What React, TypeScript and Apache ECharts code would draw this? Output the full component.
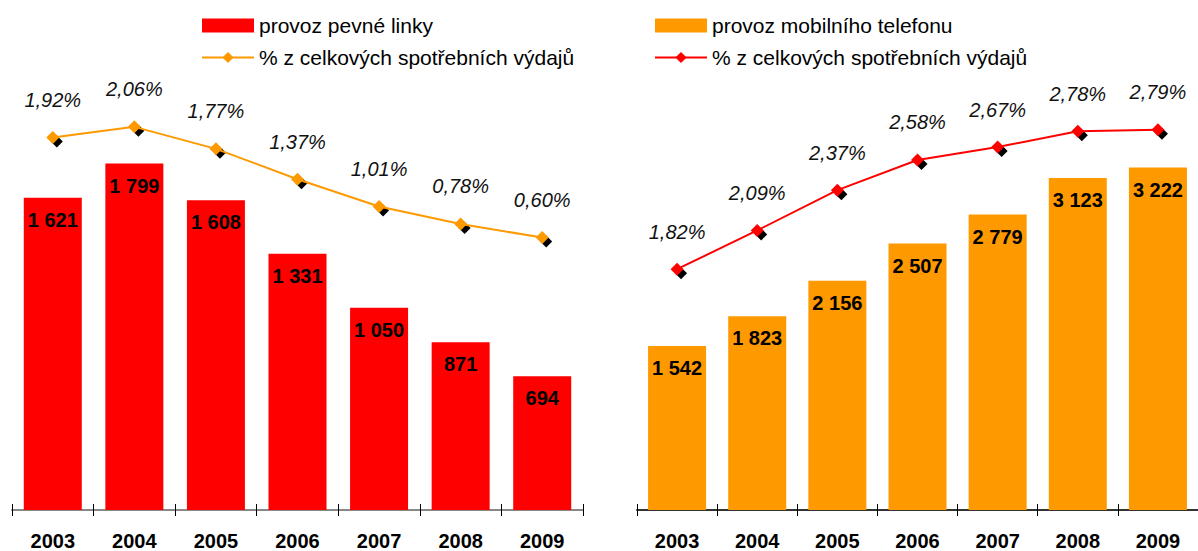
import React, { useEffect, useRef } from "react";
import * as echarts from "echarts";

const years = ["2003", "2004", "2005", "2006", "2007", "2008", "2009"];
const fixedValues = [1621, 1799, 1608, 1331, 1050, 871, 694];
const fixedPct = [1.92, 2.06, 1.77, 1.37, 1.01, 0.78, 0.6];
const mobileValues = [1542, 1823, 2156, 2507, 2779, 3123, 3222];
const mobilePct = [1.82, 2.09, 2.37, 2.58, 2.67, 2.78, 2.79];

const fixedName = "provoz pevné linky";
const mobileName = "provoz mobilního telefonu";
const pctLabel = "% z celkových spotřebních výdajů";

const FONT = "'Liberation Sans', Arial, sans-serif";
const RED = "#FF0000";
const ORANGE = "#FF9900";

const fmtThousands = (v: number) =>
  String(v).replace(/\B(?=(\d{3})+(?!\d))/g, " ");
const fmtPct = (v: number) => v.toFixed(2).replace(".", ",") + "%";

const legendNames: Record<string, string> = {
  [fixedName]: fixedName,
  pctFixed: pctLabel,
  [mobileName]: mobileName,
  pctMobile: pctLabel,
};

export default function App() {
  const ref = useRef<HTMLDivElement>(null);
  useEffect(() => {
    if (!ref.current) return;
    const chart = echarts.init(ref.current, undefined, { renderer: "svg" });

    const xAxisPair = (gridIndex: number, lineColor: string) => [
      {
        type: "category",
        gridIndex,
        data: years,
        boundaryGap: true,
        axisLine: { show: true, onZero: false, lineStyle: { color: lineColor, width: 2 } },
        axisTick: { show: true, inside: false, length: 6, lineStyle: { color: "#000", width: 1 } },
        axisLabel: {
          show: true,
          margin: 21,
          fontSize: 20,
          fontWeight: "bold",
          color: "#000",
          fontFamily: FONT,
        },
      },
      {
        type: "category",
        gridIndex,
        data: years,
        boundaryGap: true,
        position: "bottom",
        axisLine: { show: false, onZero: false },
        axisTick: { show: true, inside: true, length: 6, lineStyle: { color: "#000", width: 1 } },
        axisLabel: { show: false },
      },
    ];

    const hiddenY = (gridIndex: number, min: number, max: number) => ({
      type: "value",
      gridIndex,
      min,
      max,
      show: false,
      splitLine: { show: false },
    });

    const legendBase = {
      orient: "vertical",
      top: 15,
      padding: 0,
      itemWidth: 52,
      itemHeight: 14,
      itemGap: 11,
      selectedMode: false,
      textStyle: { fontSize: 21, lineHeight: 21, color: "#000", fontFamily: FONT },
      formatter: (name: string) => legendNames[name] ?? name,
    };

    const barLabel = {
      show: true,
      position: "insideTop",
      distance: 12,
      fontSize: 20,
      fontWeight: "bold",
      color: "#000",
      fontFamily: FONT,
      formatter: (p: any) => fmtThousands(p.value),
    };

    const pctLabelStyle = {
      show: true,
      position: "top",
      distance: 21,
      fontSize: 20,
      fontStyle: "italic",
      color: "#111",
      fontFamily: FONT,
      formatter: (p: any) => fmtPct(p.value),
    };

    const shadowStyle = { color: "#000", opacity: 1 };

    chart.setOption({
      animation: false,
      textStyle: { fontFamily: FONT },
      legend: [
        {
          ...legendBase,
          left: 201,
          data: [{ name: fixedName, icon: "rect" }, { name: "pctFixed" }],
        },
        {
          ...legendBase,
          left: 654,
          data: [{ name: mobileName, icon: "rect" }, { name: "pctMobile" }],
        },
      ],
      grid: [
        { left: 12, right: 615, top: 28.5, bottom: 40 },
        { left: 637, right: -9.5, top: 28.5, bottom: 40 },
      ],
      xAxis: [...xAxisPair(0, "#888"), ...xAxisPair(1, "#333")],
      yAxis: [
        hiddenY(0, 0, 2500),
        hiddenY(0, -2.992, 3.357),
        hiddenY(1, 0, 4530),
        hiddenY(1, 0.1444, 3.495),
      ],
      series: [
        {
          name: fixedName,
          type: "bar",
          xAxisIndex: 0,
          yAxisIndex: 0,
          data: fixedValues,
          barWidth: 58,
          itemStyle: { color: RED },
          label: barLabel,
        },
        {
          name: "pctFixedShadow",
          type: "scatter",
          xAxisIndex: 0,
          yAxisIndex: 1,
          data: fixedPct,
          symbol: "diamond",
          symbolSize: 12,
          symbolOffset: [4, 4],
          itemStyle: shadowStyle,
          silent: true,
          z: 3,
        },
        {
          name: "pctFixed",
          type: "line",
          xAxisIndex: 0,
          yAxisIndex: 1,
          data: fixedPct,
          symbol: "diamond",
          symbolSize: 13,
          showAllSymbol: true,
          lineStyle: { color: ORANGE, width: 2 },
          itemStyle: { color: ORANGE },
          label: pctLabelStyle,
          z: 4,
        },
        {
          name: mobileName,
          type: "bar",
          xAxisIndex: 2,
          yAxisIndex: 2,
          data: mobileValues,
          barWidth: 58,
          itemStyle: { color: ORANGE },
          label: barLabel,
        },
        {
          name: "pctMobileShadow",
          type: "scatter",
          xAxisIndex: 2,
          yAxisIndex: 3,
          data: mobilePct,
          symbol: "diamond",
          symbolSize: 12,
          symbolOffset: [4, 4],
          itemStyle: shadowStyle,
          silent: true,
          z: 3,
        },
        {
          name: "pctMobile",
          type: "line",
          xAxisIndex: 2,
          yAxisIndex: 3,
          data: mobilePct,
          symbol: "diamond",
          symbolSize: 13,
          showAllSymbol: true,
          lineStyle: { color: RED, width: 2 },
          itemStyle: { color: RED },
          label: pctLabelStyle,
          z: 4,
        },
      ],
    });

    return () => chart.dispose();
  }, []);

  return (
    <div
      ref={ref}
      style={{ position: "absolute", left: 0, top: 0, width: 1198, height: 551, background: "#fff" }}
    />
  );
}
